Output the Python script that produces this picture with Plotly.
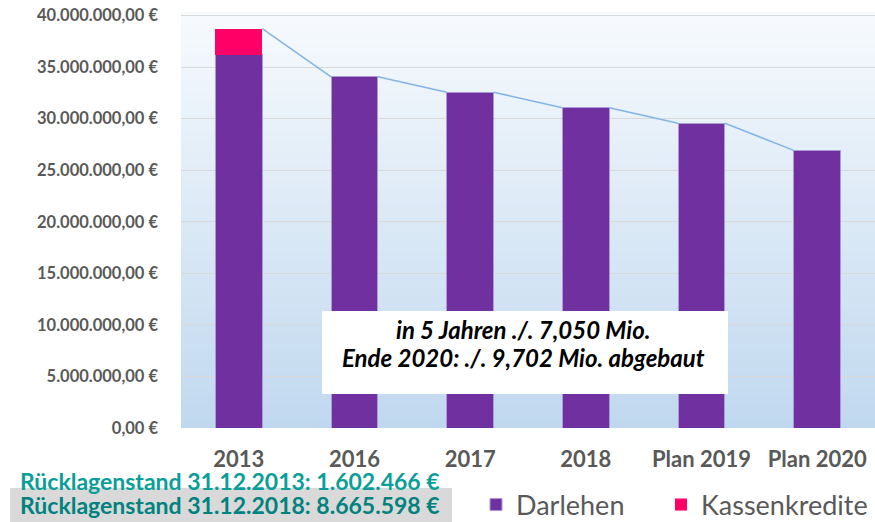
import plotly.graph_objects as go

# ---------------- data ----------------
categories = ["2013", "2016", "2017", "2018", "Plan 2019", "Plan 2020"]
darlehen = [36_200_000, 34_060_000, 32_570_000, 31_070_000, 29_550_000, 26_930_000]
kassenkredite = [2_530_000, 0, 0, 0, 0, 0]
y_tick_values = [0, 5_000_000, 10_000_000, 15_000_000, 20_000_000,
                 25_000_000, 30_000_000, 35_000_000, 40_000_000]
note_lines = ["in 5 Jahren ./. 7,050 Mio.", "Ende 2020: ./. 9,702 Mio. abgebaut"]
reserve_lines = ["Rücklagenstand 31.12.2013: 1.602.466 €",
                 "Rücklagenstand 31.12.2018: 8.665.598 €"]


def euro(v):
    s = f"{v:,.2f}"
    return s.replace(",", "X").replace(".", ",").replace("X", ".") + " €"


y_tick_text = [euro(v) for v in y_tick_values]

# ---------------- geometry helpers (pixels -> paper) ----------------
W, H = 875, 522
L, R, T, B = 181, 0, 13, 94
PW, PH = W - L - R, H - T - B


def px(xp):
    return (xp - L) / PW


def py(yp):
    return (H - B - yp) / PH


BAR_W = 0.405
xs = list(range(len(categories)))
totals = [d + k for d, k in zip(darlehen, kassenkredite)]

# series line connecting bar tops (right edge of one bar to left edge of next)
line_x, line_y = [], []
for i in range(len(xs) - 1):
    line_x += [xs[i] + BAR_W / 2, xs[i + 1] - BAR_W / 2, None]
    line_y += [totals[i], totals[i + 1], None]

fig = go.Figure()
fig.add_trace(go.Bar(
    x=xs, y=darlehen, name="Darlehen", width=BAR_W, legend="legend",
    marker=dict(color="#7030A0", line=dict(color="#A99AD8", width=1)),
))
fig.add_trace(go.Bar(
    x=xs, y=kassenkredite, name="Kassenkredite", width=BAR_W, legend="legend2",
    marker=dict(color="#FF0066", line=dict(color="rgba(255,0,102,0)", width=0)),
))
fig.add_trace(go.Scatter(
    x=line_x, y=line_y, mode="lines", showlegend=False, hoverinfo="skip",
    line=dict(color="#82B4E6", width=1.5),
))

# gradient plot background
shapes = []
N = 80
top_c = (247, 250, 253)
bot_c = (192, 216, 239)
for i in range(N):
    t = (i + 0.5) / N
    c = tuple(round(top_c[j] + (bot_c[j] - top_c[j]) * t) for j in range(3))
    shapes.append(dict(
        type="rect", xref="x domain", yref="y domain",
        x0=0, x1=1, y0=1 - (i + 1) / N, y1=1 - i / N + 0.002,
        fillcolor="rgb(%d,%d,%d)" % c, line=dict(width=0), layer="below",
    ))

# note box
shapes.append(dict(
    type="rect", xref="paper", yref="paper",
    x0=px(322), x1=px(728), y0=py(394), y1=py(311),
    fillcolor="white", line=dict(width=0), layer="above",
))
# grey box behind second reserve line
shapes.append(dict(
    type="rect", xref="paper", yref="paper",
    x0=px(10), x1=px(452), y0=py(522), y1=py(488),
    fillcolor="#D9D9D9", line=dict(width=0), layer="above",
))

annotations = []
for txt, yc in zip(note_lines, [329, 357]):
    annotations.append(dict(
        text="<b><i>%s</i></b>" % txt, xref="paper", yref="paper",
        x=px(523), y=py(yc), xanchor="center", yanchor="middle",
        showarrow=False, font=dict(family="Lato", size=24, color="#000000"),
    ))
for txt, yc, col in zip(reserve_lines, [481, 505], ["#0A9E98", "#00827E"]):
    annotations.append(dict(
        text="<b>%s</b>" % txt, xref="paper", yref="paper",
        x=px(18), y=py(yc), xanchor="left", yanchor="middle",
        showarrow=False, font=dict(family="Lato", size=23, color=col),
    ))

legend_style = dict(
    orientation="h", yanchor="middle", xanchor="left",
    font=dict(family="Lato", size=27, color="#595959"),
    bgcolor="rgba(0,0,0,0)",
)

fig.update_layout(
    width=W, height=H,
    margin=dict(l=L, r=R, t=T, b=B, pad=0, autoexpand=False),
    barmode="stack",
    paper_bgcolor="white",
    plot_bgcolor="rgba(0,0,0,0)",
    shapes=shapes,
    annotations=annotations,
    showlegend=True,
    legend=dict(x=px(476), y=py(505), **legend_style),
    legend2=dict(x=px(661), y=py(505), **legend_style),
    xaxis=dict(
        range=[-0.5, len(categories) - 0.5],
        tickmode="array", tickvals=xs, ticktext=categories,
        tickfont=dict(family="Lato", size=22, color="#595959", weight="bold"),
        showgrid=False, zeroline=False, showline=False, ticks="",
        ticklabelstandoff=16, automargin=False,
    ),
    yaxis=dict(
        range=[0, 40_250_000],
        tickmode="array", tickvals=y_tick_values, ticktext=y_tick_text,
        tickfont=dict(family="Lato", size=16.5, color="#595959", weight="bold"),
        showgrid=True, gridcolor="#D9D9D9", gridwidth=1,
        zeroline=False, showline=False, ticks="",
        ticklabelstandoff=22, automargin=False,
    ),
)

fig.write_html(
    "out.html",
    config={"displayModeBar": False},
    post_script="document.body.style.margin='0px';document.body.style.overflow='hidden';",
)
